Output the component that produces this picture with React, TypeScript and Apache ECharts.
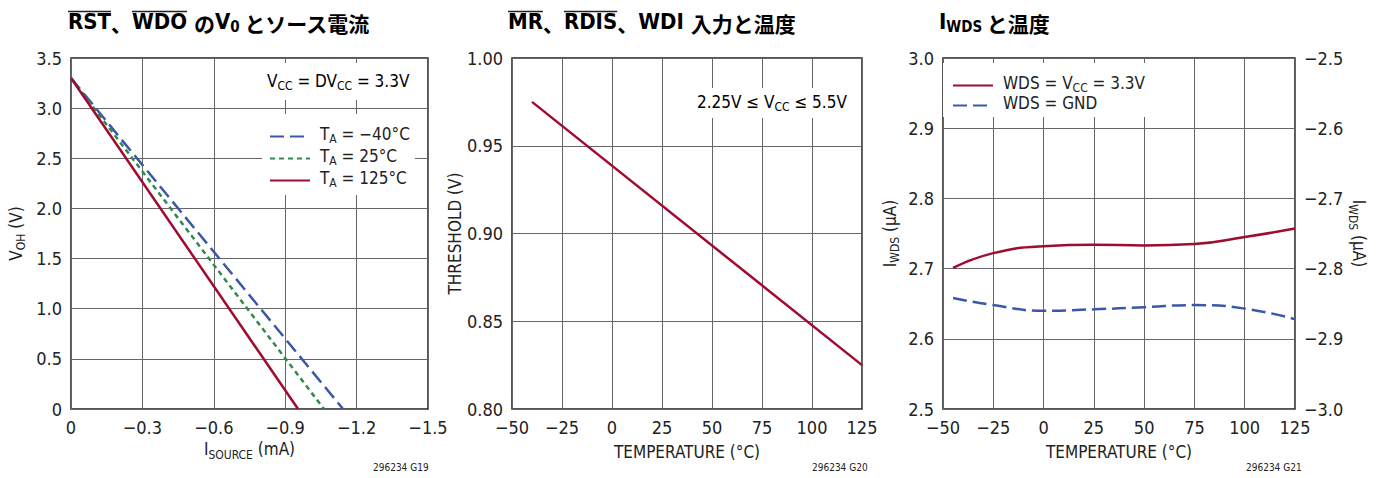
import React, { useEffect, useRef } from "react";
import * as echarts from "echarts";

const FONT = "'Liberation Sans Narrow', 'DejaVu Sans Condensed', 'Liberation Sans', sans-serif";
const CJK = "'Noto Sans CJK JP', sans-serif";
const TXT = "#222";
const RED = "#9e0c30";
const BLUE = "#3b58a8";
const GREEN = "#2f8a4c";

// Chart 1: V_OH vs I_SOURCE
const vohM40: number[][] = [[0, 3.3], [-1.143, 0]];
const voh25: number[][] = [[0, 3.3], [-1.063, 0]];
const voh125: number[][] = [[0, 3.3], [-0.954, 0]];

// Chart 2: threshold vs temperature
const thrTemps = [-40, 125];
const thrValues = [0.975, 0.825];

// Chart 3: I_WDS vs temperature
const iwdsTemps = [-45, -25, 0, 25, 50, 75, 100, 125];
const iwdsVcc = [2.701, 2.722, 2.732, 2.734, 2.733, 2.735, 2.745, 2.757];
const iwdsGnd = [2.658, 2.648, 2.64, 2.642, 2.645, 2.648, 2.643, 2.628];

const minus = (s: string) => s.replace("-", "\u2212");

const subRich = {
  n: { fontFamily: FONT, fontSize: 17, lineHeight: 17, color: TXT, verticalAlign: "bottom", padding: [0, 0, 3, 0] },
  s: { fontFamily: FONT, fontSize: 12, lineHeight: 12, color: TXT, verticalAlign: "bottom", padding: [0, 0, 0, 0] },
  f: { fontFamily: FONT, fontSize: 17, lineHeight: 17, color: TXT, verticalAlign: "bottom", padding: [0, 0, 3, 5] },
};

const LAT_FONT = `bold 22px ${FONT}`;
const CJK_FONT = `bold 21px ${CJK}`;
const titleRich = {
  l: { fontFamily: FONT, fontWeight: "bold", fontSize: 22, lineHeight: 26, color: TXT, verticalAlign: "bottom", padding: [0, 0, 2, 0] },
  ls: { fontFamily: FONT, fontWeight: "bold", fontSize: 15, lineHeight: 18, color: TXT, verticalAlign: "bottom", padding: [0, 0, 0, 0] },
  j: { fontFamily: CJK, fontWeight: "bold", fontSize: 21, lineHeight: 26, color: TXT, verticalAlign: "bottom", padding: [0, 0, 1, 0] },
};

const axisCommon = {
  axisLine: { show: false },
  axisTick: { show: false },
  splitLine: { show: true, lineStyle: { color: "#666", width: 1 } },
  axisLabel: { color: TXT, fontSize: 18, fontFamily: FONT, margin: 9 },
  nameLocation: "middle",
  nameTextStyle: { rich: subRich, fontFamily: FONT, fontSize: 17, color: TXT },
};

const legendNames: Record<string, string> = {
  m40: "{f|T}{s|A}{n| = \u221240°C}",
  p25: "{f|T}{s|A}{n| = 25°C}",
  p125: "{f|T}{s|A}{n| = 125°C}",
  vcc: "{f|WDS = V}{s|CC}{n| = 3.3V}",
  gnd: "{f|WDS = GND}",
};

function measure(text: string, font: string): number {
  const ctx = document.createElement("canvas").getContext("2d")!;
  ctx.font = font;
  return ctx.measureText(text).width;
}

export default function App() {
  const ref = useRef<HTMLDivElement>(null);
  useEffect(() => {
    document.body.style.margin = "0";
    const chart = echarts.init(ref.current!, null, { renderer: "svg" });
    const gridBase = { show: true, borderColor: "#1e1e1e", borderWidth: 1.5, backgroundColor: "transparent" };

    // overline extents (computed from text widths)
    const t1x = 68, t2x = 508, oy = 11.5;
    const wRST = measure("RST", LAT_FONT);
    const wComma = measure("、", CJK_FONT);
    const wWDO = measure("WDO", LAT_FONT);
    const wMR = measure("MR", LAT_FONT);
    const wRDIS = measure("RDIS", LAT_FONT);
    const ol = (x1: number, x2: number) => ({
      type: "line", z: 5, shape: { x1, y1: oy, x2, y2: oy }, style: { stroke: TXT, lineWidth: 1.6 },
    });

    const option: any = {
      animation: false,
      grid: [
        { ...gridBase, left: 71, top: 58, width: 357, height: 351 },
        { ...gridBase, left: 512, top: 58, width: 350, height: 351 },
        { ...gridBase, left: 943, top: 58, width: 352, height: 351 },
      ],
      xAxis: [
        {
          ...axisCommon, type: "value", gridIndex: 0, min: -1.5, max: 0, interval: 0.3, inverse: true,
          axisLabel: { ...axisCommon.axisLabel, formatter: (v: number) => (Math.abs(v) < 1e-9 ? "0" : minus(v.toFixed(1))) },
          name: "{n|I}{s|SOURCE}{n| (mA)}", nameGap: 32,
        },
        {
          ...axisCommon, type: "value", gridIndex: 1, min: -50, max: 125, interval: 25,
          axisLabel: { ...axisCommon.axisLabel, formatter: (v: number) => minus(String(v)) },
          name: "TEMPERATURE (°C)", nameGap: 34,
        },
        {
          ...axisCommon, type: "value", gridIndex: 2, min: -50, max: 125, interval: 25,
          axisLabel: { ...axisCommon.axisLabel, formatter: (v: number) => minus(String(v)) },
          name: "TEMPERATURE (°C)", nameGap: 34,
        },
      ],
      yAxis: [
        {
          ...axisCommon, type: "value", gridIndex: 0, min: 0, max: 3.5, interval: 0.5,
          axisLabel: { ...axisCommon.axisLabel, formatter: (v: number) => (v === 0 ? "0" : v.toFixed(1)) },
          name: "{n|V}{s|OH}{n| (V)}", nameGap: 44, nameRotate: 90,
        },
        {
          ...axisCommon, type: "value", gridIndex: 1, min: 0.8, max: 1.0, interval: 0.05,
          axisLabel: { ...axisCommon.axisLabel, formatter: (v: number) => v.toFixed(2) },
          name: "THRESHOLD (V)", nameGap: 49, nameRotate: 90,
        },
        {
          ...axisCommon, type: "value", gridIndex: 2, min: 2.5, max: 3.0, interval: 0.1,
          axisLabel: { ...axisCommon.axisLabel, formatter: (v: number) => v.toFixed(1) },
          name: "{n|I}{s|WDS}{n| (μA)}", nameGap: 42, nameRotate: 90,
        },
        {
          ...axisCommon, type: "value", gridIndex: 2, min: -3.0, max: -2.5, interval: 0.1, position: "right",
          splitLine: { show: false },
          axisLabel: { ...axisCommon.axisLabel, formatter: (v: number) => minus(v.toFixed(1)) },
          name: "{n|I}{s|WDS}{n| (μA)}", nameGap: 46, nameRotate: -90,
        },
      ],
      legend: [
        {
          data: ["m40", "p25", "p125"], orient: "vertical", left: 262, top: 114,
          itemWidth: 40, itemHeight: 10, itemGap: 2, backgroundColor: "#fff",
          padding: [11, 5, 6, 7], formatter: (n: string) => legendNames[n],
          textStyle: { rich: subRich }, itemStyle: { opacity: 0 },
        },
        {
          data: ["vcc", "gnd"], orient: "vertical", left: 943, top: 63,
          itemWidth: 40, itemHeight: 10, itemGap: 0, backgroundColor: "#fff",
          padding: [11, 4, 3, 9], formatter: (n: string) => legendNames[n],
          textStyle: { rich: subRich }, itemStyle: { opacity: 0 },
        },
      ],
      series: [
        { name: "m40", type: "line", xAxisIndex: 0, yAxisIndex: 0, data: vohM40, symbol: "none", z: 3,
          lineStyle: { color: BLUE, width: 2.5, type: [14, 6] }, itemStyle: { color: BLUE } },
        { name: "p25", type: "line", xAxisIndex: 0, yAxisIndex: 0, data: voh25, symbol: "none", z: 3,
          lineStyle: { color: GREEN, width: 2.5, type: [5, 4] }, itemStyle: { color: GREEN } },
        { name: "p125", type: "line", xAxisIndex: 0, yAxisIndex: 0, data: voh125, symbol: "none", z: 3,
          lineStyle: { color: RED, width: 2.5 }, itemStyle: { color: RED } },
        { name: "thr", type: "line", xAxisIndex: 1, yAxisIndex: 1, data: thrTemps.map((t, i) => [t, thrValues[i]]), symbol: "none", z: 3,
          lineStyle: { color: RED, width: 2.5 }, itemStyle: { color: RED } },
        { name: "vcc", type: "line", xAxisIndex: 2, yAxisIndex: 2, smooth: true, data: iwdsTemps.map((t, i) => [t, iwdsVcc[i]]), symbol: "none", z: 3,
          lineStyle: { color: RED, width: 2.5 }, itemStyle: { color: RED } },
        { name: "gnd", type: "line", xAxisIndex: 2, yAxisIndex: 2, smooth: true, data: iwdsTemps.map((t, i) => [t, iwdsGnd[i]]), symbol: "none", z: 3,
          lineStyle: { color: BLUE, width: 2.5, type: [14, 6] }, itemStyle: { color: BLUE } },
      ],
      graphic: [
        // annotation boxes
        { type: "rect", z: 1, shape: { x: 262, y: 63, width: 148, height: 37 }, style: { fill: "#fff" } },
        { type: "text", z: 2, left: 267, top: 72, style: { text: "{n|V}{s|CC}{n| = DV}{s|CC}{n| = 3.3V}", rich: subRich } },
        { type: "rect", z: 1, shape: { x: 690, y: 88, width: 160, height: 30 }, style: { fill: "#fff" } },
        { type: "text", z: 2, left: 697, top: 93, style: { text: "{n|2.25V ≤ V}{s|CC}{n| ≤ 5.5V}", rich: subRich } },
        // titles
        { type: "text", z: 5, left: t1x, top: 10, style: { text: "{l|RST}{j|、}{l|WDO }{j|の}{l|V}{ls|0 }{j|とソース電流}", rich: titleRich } },
        { type: "text", z: 5, left: t2x, top: 10, style: { text: "{l|MR}{j|、}{l|RDIS}{j|、}{l|WDI }{j|入力と温度}", rich: titleRich } },
        { type: "text", z: 5, left: 939, top: 10, style: { text: "{l|I}{ls|WDS }{j|と温度}", rich: titleRich } },
        // overlines
        ol(t1x, t1x + wRST),
        ol(t1x + wRST + wComma, t1x + wRST + wComma + wWDO),
        ol(t2x, t2x + wMR),
        ol(t2x + wMR + wComma, t2x + wMR + wComma + wRDIS),
        // footnotes
        { type: "text", z: 5, left: 373, top: 462, style: { text: "296234 G19", font: `10px ${FONT}`, fill: TXT } },
        { type: "text", z: 5, left: 812, top: 462, style: { text: "296234 G20", font: `10px ${FONT}`, fill: TXT } },
        { type: "text", z: 5, left: 1246, top: 462, style: { text: "296234 G21", font: `10px ${FONT}`, fill: TXT } },
      ],
    };
    chart.setOption(option);
    return () => chart.dispose();
  }, []);
  return <div ref={ref} style={{ width: 1379, height: 478 }} />;
}
